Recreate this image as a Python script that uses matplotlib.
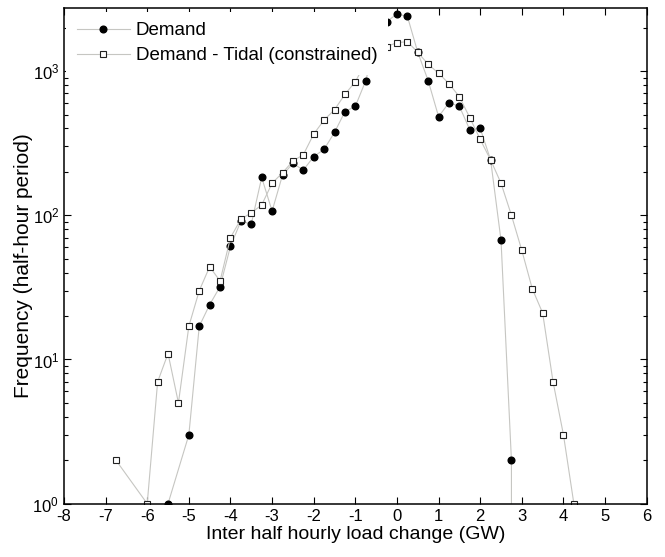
import matplotlib
matplotlib.use("Agg")
import matplotlib.pyplot as plt
from matplotlib.ticker import LogLocator, NullFormatter

plt.rcParams['font.family'] = ['Liberation Sans', 'DejaVu Sans']
plt.rcParams['mathtext.fontset'] = 'custom'
plt.rcParams['mathtext.rm'] = 'Liberation Sans'
plt.rcParams['axes.unicode_minus'] = False

# Demand (filled circles)
x_demand = [-5.5, -5.0, -4.75, -4.5, -4.25, -4.0, -3.75, -3.5, -3.25, -3.0,
            -2.75, -2.5, -2.25, -2.0, -1.75, -1.5, -1.25, -1.0, -0.75, -0.5,
            -0.25, 0.0, 0.25, 0.5, 0.75, 1.0, 1.25, 1.5, 1.75, 2.0,
            2.25, 2.5, 2.75, 3.0]
f_demand = [1, 3, 17, 24, 32, 61, 91, 87, 183, 107,
            190, 229, 206, 255, 287, 376, 523, 570, 858, 1650,
            2200, 2490, 2400, 1350, 858, 483, 604, 570, 392, 401,
            242, 67, 2, 0]

# Demand - Tidal (constrained) (open squares)
x_tidal = [-6.75, -6.0, -5.75, -5.5, -5.25, -5.0, -4.75, -4.5, -4.25, -4.0,
           -3.75, -3.5, -3.25, -3.0, -2.75, -2.5, -2.25, -2.0, -1.75, -1.5,
           -1.25, -1.0, -0.75, -0.5, -0.25, 0.0, 0.25, 0.5, 0.75, 1.0,
           1.25, 1.5, 1.75, 2.0, 2.25, 2.5, 2.75, 3.0, 3.25, 3.5,
           3.75, 4.0, 4.25]
f_tidal = [2, 1, 7, 11, 5, 17, 30, 44, 35, 70,
           94, 104, 118, 167, 197, 238, 263, 366, 458, 540,
           690, 844, 1150, 1350, 1480, 1574, 1600, 1350, 1114, 966,
           818, 664, 475, 336, 242, 167, 100, 57, 31, 21,
           7, 3, 1]

x_ticks = list(range(-8, 7))

fig = plt.figure(figsize=(6.65, 5.57), dpi=100)
ax = fig.add_axes([0.0962, 0.0957, 0.8763, 0.8908])

ax.plot(x_demand, f_demand, color='#c6c6c2', lw=0.8, marker='o', ms=4.8,
        mfc='black', mec='black', label="Demand")
ax.plot(x_tidal, f_tidal, color='#c6c6c2', lw=0.8, marker='s', ms=4.2,
        mfc='white', mec='#222222', mew=0.8, label="Demand - Tidal (constrained)")

ax.set_yscale('log')
ax.set_ylim(1, 2760)
ax.set_xlim(-8, 6)
ax.set_xticks(x_ticks)
ax.set_xticklabels([str(t) for t in x_ticks])
ax.yaxis.set_major_locator(LogLocator(base=10))
ax.yaxis.set_minor_locator(LogLocator(base=10, subs=range(2, 10)))
ax.yaxis.set_minor_formatter(NullFormatter())

ax.tick_params(which='both', direction='in', top=True, right=True, labelsize=12)
ax.tick_params(which='major', length=5, width=0.8)
ax.tick_params(which='minor', length=3, width=0.8)
for s in ax.spines.values():
    s.set_linewidth(1.1)

ax.set_xlabel("Inter half hourly load change (GW)", fontsize=14, labelpad=2)
ax.set_ylabel("Frequency (half-hour period)", fontsize=15)
ax.yaxis.set_label_coords(-0.054, 0.48)

leg = ax.legend(loc='upper left', bbox_to_anchor=(0, 0.996), fontsize=13.5,
                frameon=True, fancybox=False,
                edgecolor='none', facecolor='white', framealpha=1,
                handlelength=2.85, handletextpad=0.3, labelspacing=0.42,
                borderpad=0.55, borderaxespad=0.12)

plt.savefig("out.png", dpi=100)
